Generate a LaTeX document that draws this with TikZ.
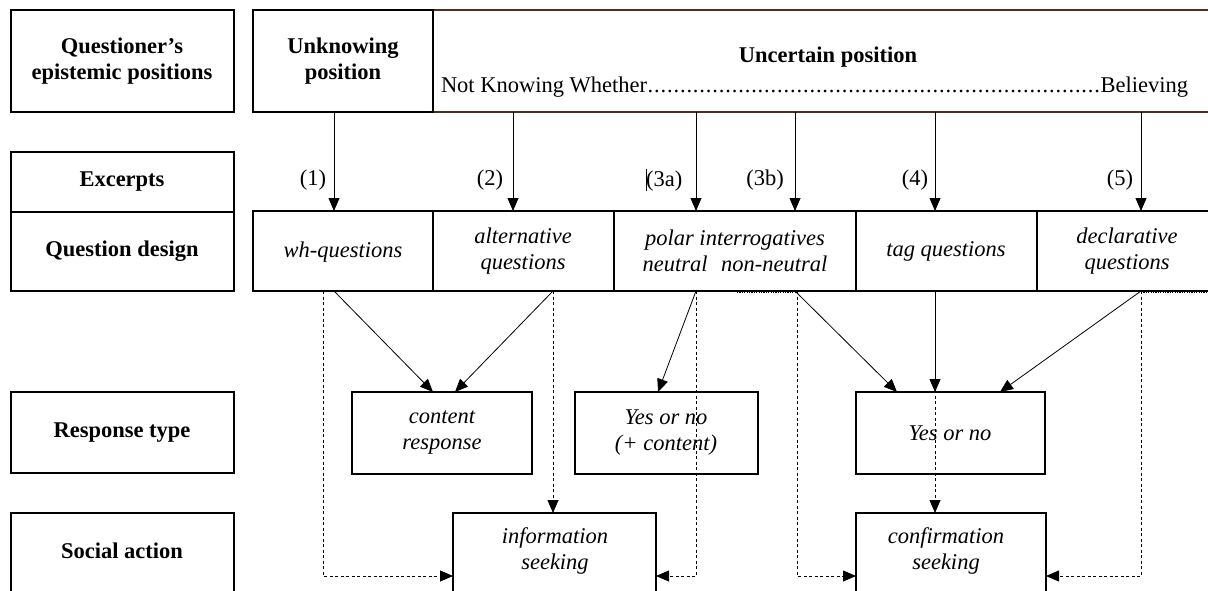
\documentclass[tikz,border=0pt]{standalone}
\usepackage{fontspec}
\setmainfont{Liberation Serif}
\usetikzlibrary{arrows.meta}
\definecolor{rimbrown}{RGB}{80,45,35}
\begin{document}
\begin{tikzpicture}[x=1pt,y=-1pt,
  font=\fontsize{22.5}{26}\selectfont,
  box/.style={draw, line width=1.6pt, inner sep=0pt, outer sep=0pt,
    anchor=north west, align=center},
  head/.style={font=\fontsize{22.5}{26}\selectfont\bfseries, align=center},
  txt/.style={align=center, inner sep=0pt},
  ital/.style={font=\fontsize{22.5}{26}\selectfont\itshape, align=center, inner sep=0pt},
  arr/.style={-{Triangle[length=13pt,width=11pt]}, line width=0.8pt},
  darr/.style={arr, dash pattern=on 3pt off 2.5pt},
  dots/.style={line width=1.6pt, dash pattern=on 1.2pt off 1.2pt}]
\useasboundingbox (0,0) rectangle (1208,591);
\clip (0,0) rectangle (1208,591);

% column positions used by the connectors
\foreach \n/\x in {a/323,b/334,c/433,d/455,e/513,f/553,g/658,h/696,
  i/737,j/795,k/797,l/897,m/935,n/1000,o/1141,p/1208}
  \coordinate (x\n) at (\x,0);
\coordinate (ylow) at (0,576);

% left column: row headings
\node[box, minimum width=223, minimum height=102] (q)  at (11,10)  {};
\node[box, minimum width=223, minimum height=60]  (ex) at (11,152) {};
\node[box, minimum width=223, minimum height=79]  (qd) at (11,212) {};
\node[box, minimum width=223, minimum height=81]  (rt) at (11,392) {};
\node[box, minimum width=223, minimum height=110] (sa) at (11,513) {};
\node[head] (qT)  at (122,61)  {Questioner’s\\epistemic positions};
\node[head] (exT) at (122,182) {Excerpts};
\node[head] (qdT) at (122,251) {Question design};
\node[head] (rtT) at (122,433) {Response type};
\node[head] (saT) at (122,551) {Social action};

% epistemic positions
\node[box, draw=rimbrown, line width=1.2pt, minimum width=800, minimum height=102] (unc) at (433,10) {};
\node[box, minimum width=180, minimum height=102] (unk) at (253,10) {};
\node[head] (unkT) at (343,61) {Unknowing\\position};
\node[head] (uncT) at (828,57) {Uncertain position};
\node[txt] (scaleT) at (814.5,87)
  {\makebox[747pt]{Not Knowing Whether\xleaders\hbox to 6.4pt{\hss.\hss}\hfill Believing}};

% question designs
\node[box, minimum width=180, minimum height=80] (wh)    at (253,211)  {};
\node[box, minimum width=181, minimum height=80] (alt)   at (433,211)  {};
\node[box, minimum width=242, minimum height=80] (polar) at (614,211)  {};
\node[box, minimum width=181, minimum height=80] (tag)   at (856,211)  {};
\node[box, minimum width=190, minimum height=80] (decl)  at (1037,211) {};
\node[ital] (whT)    at (343,252)  {wh-questions};
\node[ital] (altT)   at (523,251)  {alternative\\questions};
\node[ital] (polarT) at (735,251)  {polar interrogatives\\neutral\hspace{0.6em}non-neutral};
\node[ital] (tagT)   at (946,251)  {tag questions};
\node[ital] (declT)  at (1127,251) {declarative\\questions};

% excerpt numbers
\node[txt] (e1)  at (313,180) {(1)};
\node[txt] (e2)  at (490,180) {(2)};
\node[txt] (e3a) at (664,180) {\rule[-5pt]{0.7pt}{22pt}(3a)};
\node[txt] (e3b) at (765,180) {(3b)};
\node[txt] (e4)  at (915,180) {(4)};
\node[txt] (e5)  at (1120,180) {(5)};

% response types
\node[box, minimum width=180, minimum height=82] (cr)  at (352,392) {};
\node[box, minimum width=183, minimum height=82] (yn1) at (575,392) {};
\node[box, minimum width=189, minimum height=82] (yn2) at (856,392) {};
\node[ital] (crT)  at (442,433) {content\\response};
\node[ital] (yn1T) at (666,433) {Yes or no\\(+ content)};
\node[ital] (yn2T) at (950,433) {Yes or no};

% social actions
\node[box, minimum width=203, minimum height=110] (info) at (453,513) {};
\node[box, minimum width=190, minimum height=110] (conf) at (856,513) {};
\node[ital] (infoT) at (555,551) {information\\seeking};
\node[ital] (confT) at (946,551) {confirmation\\seeking};

% positions to designs
\draw[arr] (unk.south -| xb) -- (wh.north -| xb);
\draw[arr] (unc.south -| xe) -- (alt.north -| xe);
\draw[arr] (unc.south -| xh) -- (polar.north -| xh);
\draw[arr] (unc.south -| xj) -- (polar.north -| xj);
\draw[arr] (unc.south -| xm) -- (tag.north -| xm);
\draw[arr] (unc.south -| xo) -- (decl.north -| xo);

% designs to social actions (dashed)
\draw[darr] (wh.south -| xa) |- (info.west |- ylow);
\draw[darr] (alt.south -| xf) -- (info.north -| xf);
\draw[darr] (polar.south -| xh) |- (info.east |- ylow);
\draw[darr] (polar.south -| xk) |- (conf.west |- ylow);
\draw[darr] (tag.south -| xm) -- (conf.north -| xm);
\draw[darr] (decl.south -| xo) |- (conf.east |- ylow);
\draw[dots] ([yshift=-1.5pt]polar.south -| xi) -- ([yshift=-1.5pt]polar.south -| xk);
\draw[dots] ([yshift=-1.5pt]decl.south -| xo) -- ([yshift=-1.5pt]decl.south -| xp);

% designs to response types
\draw[arr] (wh.south -| xb) -- (cr.north -| xc);
\draw[arr] (alt.south -| xf) -- (cr.north -| xd);
\draw[arr] (polar.south -| xh) -- (yn1.north -| xg);
\draw[arr] (polar.south -| xj) -- (yn2.north -| xl);
\draw[arr] (tag.south -| xm) -- (yn2.north -| xm);
\draw[arr] (decl.south -| xo) -- (yn2.north -| xn);
\end{tikzpicture}
\end{document}
